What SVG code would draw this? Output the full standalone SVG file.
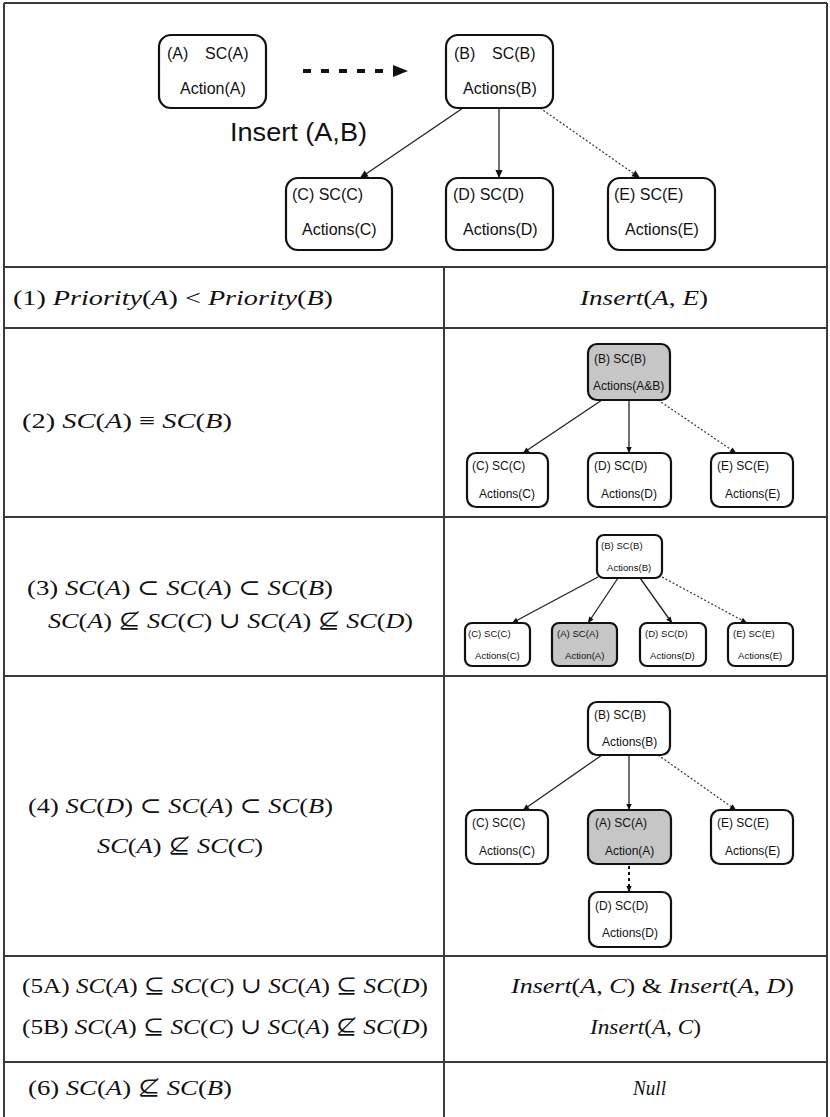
<svg xmlns="http://www.w3.org/2000/svg" width="830" height="1117" viewBox="0 0 830 1117">
<style>
.bg{fill:#ffffff}
.tl{stroke:#3a3a3a;stroke-width:2;fill:none}
.nd{fill:#ffffff;stroke:#111;stroke-width:2.2}
.gr{fill:#c6c6c6;stroke:#111;stroke-width:2.2}
.s16{font-family:"Liberation Sans",Arial,sans-serif;font-size:16px;fill:#111}
.s12{font-family:"Liberation Sans",Arial,sans-serif;font-size:12px;fill:#111}
.s10{font-family:"Liberation Sans",Arial,sans-serif;font-size:9.6px;fill:#111}
.big{font-family:"Liberation Sans",Arial,sans-serif;font-size:25px;fill:#111}
.m{font-family:"Liberation Serif","DejaVu Serif",serif;font-size:22px;fill:#111}
.i{font-style:italic}
.e{stroke:#222;stroke-width:1.3;fill:none}
.d{stroke:#333;stroke-width:1.2;fill:none;stroke-dasharray:2 2}
</style>
<defs>
<marker id="ah" viewBox="0 0 10 10" refX="10" refY="5" markerWidth="9" markerHeight="8" markerUnits="userSpaceOnUse" orient="auto"><path d="M0,0.5 L10,5 L0,9.5 z" fill="#111"/></marker>
<marker id="ahs" viewBox="0 0 10 10" refX="10" refY="5" markerWidth="7" markerHeight="6" markerUnits="userSpaceOnUse" orient="auto"><path d="M0,0.5 L10,5 L0,9.5 z" fill="#111"/></marker>
</defs>
<rect class="bg" x="0" y="0" width="830" height="1117"/>

<g id="table">
<line class="tl" x1="4" y1="3" x2="827" y2="3"/>
<line class="tl" x1="4" y1="3" x2="4" y2="1117"/>
<line class="tl" x1="827" y1="3" x2="827" y2="1117"/>
<line class="tl" x1="444" y1="267" x2="444" y2="1117"/>
<line class="tl" x1="4" y1="267" x2="827" y2="267"/>
<line class="tl" x1="4" y1="328" x2="827" y2="328"/>
<line class="tl" x1="4" y1="517" x2="827" y2="517"/>
<line class="tl" x1="4" y1="676" x2="827" y2="676"/>
<line class="tl" x1="4" y1="956" x2="827" y2="956"/>
<line class="tl" x1="4" y1="1062" x2="827" y2="1062"/>
</g>

<g id="connectors">
<line x1="303" y1="71" x2="386" y2="71" stroke="#111" stroke-width="4" stroke-dasharray="8 10"/>
<polygon points="393,65 408,71 393,77" fill="#111"/>
<line class="e" x1="463" y1="108" x2="360" y2="178" marker-end="url(#ah)"/>
<line class="e" x1="499" y1="108" x2="499" y2="178" marker-end="url(#ah)"/>
<line class="d" x1="540" y1="108" x2="640" y2="178" marker-end="url(#ah)"/>

<line class="e" x1="602" y1="400" x2="523" y2="453" marker-end="url(#ahs)"/>
<line class="e" x1="629" y1="400" x2="629" y2="453" marker-end="url(#ahs)"/>
<line class="d" x1="658" y1="400" x2="736" y2="453" marker-end="url(#ahs)"/>

<line class="e" x1="598" y1="577" x2="512" y2="623" marker-end="url(#ahs)"/>
<line class="e" x1="618" y1="578" x2="588" y2="623" marker-end="url(#ahs)"/>
<line class="e" x1="640" y1="578" x2="672" y2="623" marker-end="url(#ahs)"/>
<line class="d" x1="662" y1="577" x2="747" y2="623" marker-end="url(#ahs)"/>

<line class="e" x1="602" y1="755" x2="523" y2="810" marker-end="url(#ahs)"/>
<line class="e" x1="629" y1="755" x2="629" y2="810" marker-end="url(#ahs)"/>
<line class="d" x1="658" y1="755" x2="736" y2="810" marker-end="url(#ahs)"/>
<line x1="629" y1="866" x2="629" y2="892" stroke="#111" stroke-width="2" stroke-dasharray="3 3" marker-end="url(#ahs)"/>
</g>

<g id="h-A"><rect class="nd" x="159" y="35" width="107" height="73" rx="12"/><text class="s16" x="167" y="59">(A)</text><text class="s16" x="205" y="59">SC(A)</text><text class="s16" x="180" y="94">Action(A)</text></g>
<g id="h-B"><rect class="nd" x="446" y="35" width="107" height="73" rx="12"/><text class="s16" x="454" y="59">(B)</text><text class="s16" x="492" y="59">SC(B)</text><text class="s16" x="463" y="94">Actions(B)</text></g>
<g id="h-label"><text class="big" x="230" y="141" textLength="137" lengthAdjust="spacingAndGlyphs">Insert (A,B)</text></g>
<g id="h-C"><rect class="nd" x="286" y="178" width="106" height="72" rx="12"/><text class="s16" x="292" y="200">(C) SC(C)</text><text class="s16" x="302" y="235">Actions(C)</text></g>
<g id="h-D"><rect class="nd" x="446" y="178" width="107" height="72" rx="12"/><text class="s16" x="453" y="200">(D) SC(D)</text><text class="s16" x="463" y="235">Actions(D)</text></g>
<g id="h-E"><rect class="nd" x="608" y="178" width="107" height="72" rx="12"/><text class="s16" x="614" y="200">(E) SC(E)</text><text class="s16" x="625" y="235">Actions(E)</text></g>

<g id="r1-left"><text class="m" x="13" y="305" textLength="320" lengthAdjust="spacingAndGlyphs">(1) <tspan class="i">Priority</tspan>(<tspan class="i">A</tspan>) &lt; <tspan class="i">Priority</tspan>(<tspan class="i">B</tspan>)</text></g>
<g id="r1-right"><text class="m" x="580" y="305" textLength="128" lengthAdjust="spacingAndGlyphs"><tspan class="i">Insert</tspan>(<tspan class="i">A</tspan>, <tspan class="i">E</tspan>)</text></g>

<g id="r2-left"><text class="m" x="22" y="428" textLength="210" lengthAdjust="spacingAndGlyphs">(2) <tspan class="i">SC</tspan>(<tspan class="i">A</tspan>) ≡ <tspan class="i">SC</tspan>(<tspan class="i">B</tspan>)</text></g>
<g id="r2-B"><rect class="gr" x="588" y="344" width="82" height="56" rx="9"/><text class="s12" x="594" y="363">(B) SC(B)</text><text class="s12" x="593" y="390">Actions(A&amp;B)</text></g>
<g id="r2-C"><rect class="nd" x="467" y="453" width="81" height="54" rx="9"/><text class="s12" x="472" y="470">(C) SC(C)</text><text class="s12" x="479" y="498">Actions(C)</text></g>
<g id="r2-D"><rect class="nd" x="588" y="453" width="83" height="54" rx="9"/><text class="s12" x="594" y="470">(D) SC(D)</text><text class="s12" x="601" y="498">Actions(D)</text></g>
<g id="r2-E"><rect class="nd" x="711" y="453" width="82" height="54" rx="9"/><text class="s12" x="717" y="470">(E) SC(E)</text><text class="s12" x="725" y="498">Actions(E)</text></g>

<g id="r3-left"><text class="m" x="27" y="595" textLength="306" lengthAdjust="spacingAndGlyphs">(3) <tspan class="i">SC</tspan>(<tspan class="i">A</tspan>) ⊂ <tspan class="i">SC</tspan>(<tspan class="i">A</tspan>) ⊂ <tspan class="i">SC</tspan>(<tspan class="i">B</tspan>)</text><text class="m" x="48" y="628" textLength="365" lengthAdjust="spacingAndGlyphs"><tspan class="i">SC</tspan>(<tspan class="i">A</tspan>) ⊈ <tspan class="i">SC</tspan>(<tspan class="i">C</tspan>) ∪ <tspan class="i">SC</tspan>(<tspan class="i">A</tspan>) ⊈ <tspan class="i">SC</tspan>(<tspan class="i">D</tspan>)</text></g>
<g id="r3-B"><rect class="nd" x="597" y="535" width="65" height="43" rx="7"/><text class="s10" x="601" y="549">(B) SC(B)</text><text class="s10" x="607" y="571">Actions(B)</text></g>
<g id="r3-C"><rect class="nd" x="465" y="623" width="65" height="43" rx="7"/><text class="s10" x="468" y="637">(C) SC(C)</text><text class="s10" x="475" y="659">Actions(C)</text></g>
<g id="r3-A"><rect class="gr" x="552" y="623" width="65" height="43" rx="7"/><text class="s10" x="557" y="637">(A) SC(A)</text><text class="s10" x="565" y="659">Action(A)</text></g>
<g id="r3-D"><rect class="nd" x="640" y="623" width="66" height="43" rx="7"/><text class="s10" x="645" y="637">(D) SC(D)</text><text class="s10" x="650" y="659">Actions(D)</text></g>
<g id="r3-E"><rect class="nd" x="728" y="623" width="65" height="43" rx="7"/><text class="s10" x="733" y="637">(E) SC(E)</text><text class="s10" x="738" y="659">Actions(E)</text></g>

<g id="r4-left"><text class="m" x="28" y="813" textLength="305" lengthAdjust="spacingAndGlyphs">(4) <tspan class="i">SC</tspan>(<tspan class="i">D</tspan>) ⊂ <tspan class="i">SC</tspan>(<tspan class="i">A</tspan>) ⊂ <tspan class="i">SC</tspan>(<tspan class="i">B</tspan>)</text><text class="m" x="97" y="853" textLength="166" lengthAdjust="spacingAndGlyphs"><tspan class="i">SC</tspan>(<tspan class="i">A</tspan>) ⊈ <tspan class="i">SC</tspan>(<tspan class="i">C</tspan>)</text></g>
<g id="r4-B"><rect class="nd" x="588" y="702" width="82" height="53" rx="9"/><text class="s12" x="594" y="719">(B) SC(B)</text><text class="s12" x="602" y="746">Actions(B)</text></g>
<g id="r4-C"><rect class="nd" x="466" y="810" width="82" height="54" rx="9"/><text class="s12" x="472" y="827">(C) SC(C)</text><text class="s12" x="479" y="855">Actions(C)</text></g>
<g id="r4-A"><rect class="gr" x="588" y="810" width="83" height="54" rx="9"/><text class="s12" x="595" y="827">(A) SC(A)</text><text class="s12" x="605" y="855">Action(A)</text></g>
<g id="r4-E"><rect class="nd" x="711" y="810" width="82" height="54" rx="9"/><text class="s12" x="717" y="827">(E) SC(E)</text><text class="s12" x="725" y="855">Actions(E)</text></g>
<g id="r4-D"><rect class="nd" x="589" y="892" width="82" height="55" rx="9"/><text class="s12" x="595" y="910">(D) SC(D)</text><text class="s12" x="602" y="937">Actions(D)</text></g>

<g id="r5-left"><text class="m" x="22" y="993" textLength="406" lengthAdjust="spacingAndGlyphs">(5A) <tspan class="i">SC</tspan>(<tspan class="i">A</tspan>) ⊆ <tspan class="i">SC</tspan>(<tspan class="i">C</tspan>) ∪ <tspan class="i">SC</tspan>(<tspan class="i">A</tspan>) ⊆ <tspan class="i">SC</tspan>(<tspan class="i">D</tspan>)</text><text class="m" x="22" y="1034" textLength="406" lengthAdjust="spacingAndGlyphs">(5B) <tspan class="i">SC</tspan>(<tspan class="i">A</tspan>) ⊆ <tspan class="i">SC</tspan>(<tspan class="i">C</tspan>) ∪ <tspan class="i">SC</tspan>(<tspan class="i">A</tspan>) ⊈ <tspan class="i">SC</tspan>(<tspan class="i">D</tspan>)</text></g>
<g id="r5-right"><text class="m" x="511" y="993" textLength="283" lengthAdjust="spacingAndGlyphs"><tspan class="i">Insert</tspan>(<tspan class="i">A</tspan>, <tspan class="i">C</tspan>) &amp; <tspan class="i">Insert</tspan>(<tspan class="i">A</tspan>, <tspan class="i">D</tspan>)</text><text class="m" x="590" y="1034" textLength="111" lengthAdjust="spacingAndGlyphs"><tspan class="i">Insert</tspan>(<tspan class="i">A</tspan>, <tspan class="i">C</tspan>)</text></g>

<g id="r6-left"><text class="m" x="28" y="1095" textLength="204" lengthAdjust="spacingAndGlyphs">(6) <tspan class="i">SC</tspan>(<tspan class="i">A</tspan>) ⊈ <tspan class="i">SC</tspan>(<tspan class="i">B</tspan>)</text></g>
<g id="r6-right"><text class="m i" x="633" y="1095" textLength="33" lengthAdjust="spacingAndGlyphs">Null</text></g>
</svg>
